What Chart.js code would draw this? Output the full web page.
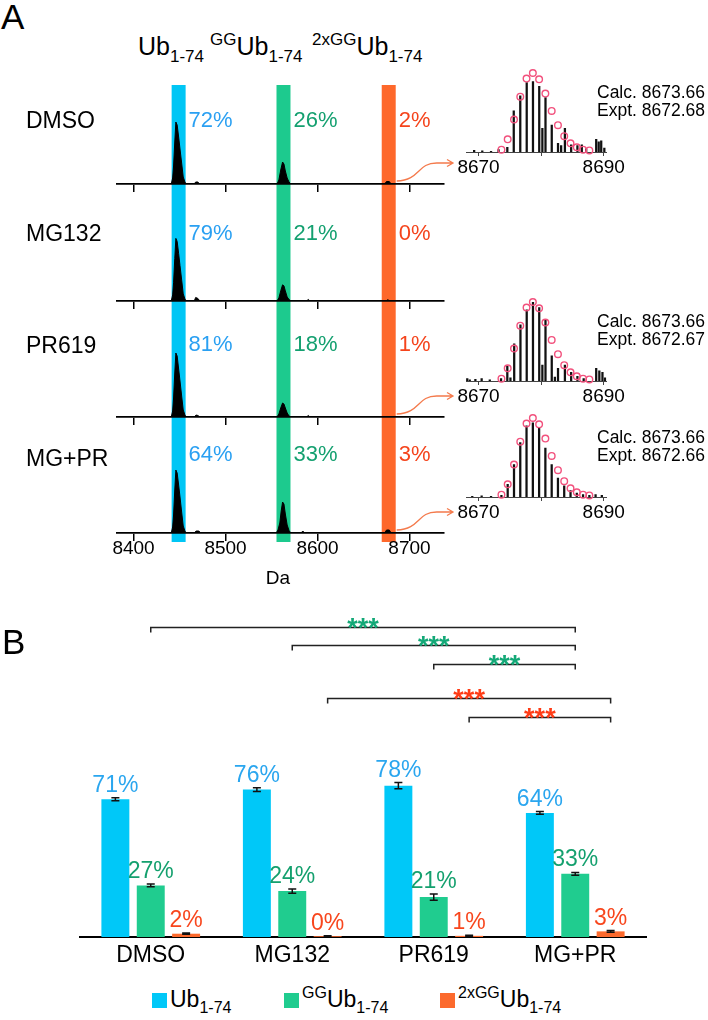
<!DOCTYPE html>
<html>
<head>
<meta charset="utf-8">
<title>Ub1-74 species</title>
<script src="https://cdn.jsdelivr.net/npm/chart.js@4.4.1/dist/chart.umd.min.js"></script>
<style>
  body { margin: 0; background: #fff; }
  #fig { position: relative; width: 708px; height: 1020px; overflow: hidden;
         font-family: "Liberation Sans", Arial, Helvetica, sans-serif; color: #000; }
  #fig canvas { position: absolute; }
  .t { position: absolute; white-space: nowrap; line-height: 1; z-index: 2; }
  .lo { position: relative; top: 7px; font-size: 17px; }
  .hi { position: relative; top: -10px; font-size: 17px; }
  .leg .lo { top: 6px; font-size: 16px; }
  .leg .hi { top: -9px; font-size: 16px; }
  .sq { position: absolute; width: 15px; height: 15px; z-index: 2; }
</style>
</head>
<body>
<div id="fig"></div>
<script>
"use strict";
const FONT = '"Liberation Sans", Arial, Helvetica, sans-serif';

// ---- shared ----
const conditions = ["DMSO", "MG132", "PR619", "MG+PR"];

// ---- panel A: deconvoluted spectra ----
const massMin = 8382, massMax = 8737.5;
const massTicks = [8400, 8500, 8600, 8700];
const bandMass = [8449, 8563, 8677.4];     // Ub1-74, GGUb1-74, 2xGGUb1-74
const bandWidthDa = 15.2;
const pctUb = [72, 79, 81, 64];
const pctGG = [26, 21, 18, 33];
const pct2xGG = [2, 0, 1, 3];
const arrowRows = [true, false, true, true];

const specDMSO = [
  [8382,0],[8441,0],[8442.5,6],[8443.5,18],[8444.8,42],[8446,62],[8447.4,59],[8449,47],[8450.5,35],[8452.4,20],[8454,7],[8456,1.5],[8458,0],
  [8466,0],[8467.5,2],[8470,2],[8471.5,0],
  [8556,0],[8558,4],[8560,14],[8562,22],[8563.5,20],[8565,13],[8567,6],[8569,2],[8571,0],
  [8673,0],[8675,2.5],[8678,2.5],[8680,0],
  [8737.5,0]];
const specMG132 = [
  [8382,0],[8441,0],[8442.5,6],[8443.5,18],[8444.8,42],[8446,62],[8447.4,59],[8449,47],[8450.5,35],[8452.4,20],[8454,7],[8456,1.5],[8458,0],
  [8466,0],[8467.5,3.5],[8470,2.5],[8472,0],
  [8556,0],[8558,3],[8560,10],[8562,16],[8563.5,15],[8565,10],[8567,4],[8569,1.5],[8571,0],
  [8588,0],[8590,1.5],[8592,0],
  [8675,0],[8676.5,1.5],[8678,0],
  [8737.5,0]];
const specPR619 = [
  [8382,0],[8441,0],[8442.5,6],[8443.5,19],[8444.8,44],[8446,64],[8447.4,61],[8449,48],[8450.5,36],[8452.4,20],[8454,7],[8456,1.5],[8458,0],
  [8466,0],[8468,2],[8470,1.5],[8472,0],
  [8556,0],[8558,3],[8560,9],[8562,14],[8563.5,13],[8565,9],[8567,4],[8569,1],[8571,0],
  [8588,0],[8590,1.5],[8592,0],
  [8737.5,0]];
const specMGPR = [
  [8382,0],[8441,0],[8442.5,6],[8443.5,18],[8444.8,43],[8446,63],[8447.4,60],[8449,48],[8450.5,36],[8452.4,20],[8454,7],[8456,1.5],[8458,0],
  [8466,0],[8468,2],[8471,2],[8473,0],
  [8555,0],[8557,3],[8559,10],[8560.5,22],[8562,31],[8563.5,29],[8565,19],[8567,8],[8569,2.5],[8571,0],
  [8582,0],[8584,2],[8586,0],
  [8673,0],[8675,3],[8678,3],[8680,0],
  [8737.5,0]];

// ---- panel A insets: 2xGGUb1-74 isotope envelope ----
const insetTicks = [8670, 8680, 8690];
const insetLabels = [8670, 8690];
const isoMz = [8673.66, 8674.66, 8675.67, 8676.67, 8677.67, 8678.68, 8679.68, 8680.68, 8681.69, 8682.69, 8683.69, 8684.70, 8685.70, 8686.70, 8687.71];
const isoCalc = [3, 16, 41, 70, 93, 100, 92, 74, 52, 34, 20, 11, 6, 3, 2];
const calcMass = ["8673.66", "8673.66", "8673.66"];
const exptMass = ["8672.68", "8672.67", "8672.66"];
const exptDMSO = [[8669.3,2],[8670.6,1.5],[8672,1],[8673.2,3],[8674.6,6],[8675.63,52],[8676.67,71],[8677.7,88],[8678.7,89],
  [8679.7,83],[8680.2,30],[8680.7,69],[8681.7,34],[8682.7,11],[8683.2,8],[8683.8,30],[8684.8,9],[8685.8,8],[8686.5,9],
  [8687.2,4],[8688.8,16],[8689.2,13],[8689.6,14],[8690.1,5]];
const exptPR619 = [[8668.2,3],[8668.6,1.5],[8669.5,2],[8670.5,3],[8671.8,1.5],[8673.6,3],[8674.6,19],[8675.1,4],[8675.7,47],
  [8676.7,71],[8677.7,90],[8678.7,100],[8679.7,93],[8680.2,20],[8680.7,77],[8681.7,32],[8682.2,5],[8682.7,16],[8683.8,20],
  [8684.8,11],[8685.8,6],[8686.8,3],[8688.8,16],[8689.3,13],[8689.8,11],[8690.2,4]];
const exptMGPR = [[8669,1],[8670.5,1.5],[8672,1],[8673.66,2],[8674.66,16],[8675.67,41],[8676.67,69],[8677.67,90],[8678.68,94],
  [8679.68,88],[8680.68,62],[8681.69,41],[8682.69,24],[8683.69,14],[8684.7,8],[8685.7,5],[8686.7,3],[8687.71,2],[8688.7,3],[8689.7,2]];

// ---- panel B: quantification ----
const ubMean = [71, 76, 78, 64];
const ubErr = [0.8, 1.0, 1.6, 0.7];
const ggMean = [26.6, 23.7, 20.6, 32.6];
const ggErr = [0.7, 1.1, 1.6, 0.7];
const gg2Mean = [1.7, 0.4, 0.6, 2.9];
const gg2Err = [0.3, 0.2, 0.3, 0.4];
const sigFrom = [0, 1, 2, 1, 2];
const sigTo = [3, 3, 3, 3, 3];
const sigSeries = [1, 1, 1, 2, 2];
const sigLevel = [160, 150.5, 140.7, 123.2, 113.4];
const sigMark = ["***", "***", "***", "***", "***"];

// colours
const bandColors = ["#00c6f5", "#1dca8e", "#fe682b"];
const pctColors = ["#2aa0f2", "#14a070", "#f5441c"];
const barColors = ["#00c8f8", "#20cc8f", "#fc6a2d"];
const barLabelColors = ["#2aa6ef", "#14a06e", "#f8461d"];
const starColors = ["#13a877", "#13a877", "#ff3c16"];
const arrowColor = "#f47a4c";
const isoColor = "#f2517d";

const fig = document.getElementById("fig");
function makeCanvas(left, top, w, h) {
  const c = document.createElement("canvas");
  c.width = w; c.height = h;
  c.style.left = left + "px"; c.style.top = top + "px";
  c.style.width = w + "px"; c.style.height = h + "px";
  fig.appendChild(c);
  return c;
}
function addText(left, top, size, html, extra) {
  const d = document.createElement("div");
  d.className = "t";
  d.style.left = left + "px"; d.style.top = top + "px"; d.style.fontSize = size + "px";
  if (extra) d.style.cssText += extra;
  d.innerHTML = html;
  fig.appendChild(d);
  return d;
}

// ---------- panel A rows ----------
const spectra = [specDMSO, specMG132, specPR619, specMGPR];
const rowPct = [pctUb, pctGG, pct2xGG];
const rowTop = [76, 192, 309, 425];
const rowHeight = [116, 117, 116, 145];
const labelLift = [63, 67, 72, 78];

const rowDecor = {
  id: "rowDecor",
  beforeDraw(chart, args, opts) {
    const { ctx, scales: { x } } = chart;
    ctx.save();
    bandMass.forEach((m, k) => {
      const x0 = x.getPixelForValue(m - bandWidthDa / 2);
      const x1 = x.getPixelForValue(m + bandWidthDa / 2);
      ctx.fillStyle = bandColors[k];
      ctx.fillRect(x0, opts.bandTop, x1 - x0, opts.bandBottom - opts.bandTop);
    });
    ctx.restore();
  },
  afterDraw(chart, args, opts) {
    const { ctx, chartArea, scales: { x } } = chart;
    const i = opts.row;
    const base = chartArea.bottom;
    ctx.save();
    ctx.font = "22px " + FONT;
    ctx.textBaseline = "middle";
    ctx.textAlign = "left";
    bandMass.forEach((m, k) => {
      ctx.fillStyle = pctColors[k];
      ctx.fillText(rowPct[k][i] + "%", x.getPixelForValue(m + bandWidthDa / 2) + 3, base - labelLift[i]);
    });
    if (arrowRows[i]) {
      const xs = x.getPixelForValue(bandMass[2] + bandWidthDa / 2) + 1;
      const ys = base - 3, ye = base - 21, xe = chartArea.right + 9;
      ctx.strokeStyle = arrowColor;
      ctx.lineWidth = 1.3;
      ctx.beginPath();
      ctx.moveTo(xs, ys);
      ctx.bezierCurveTo(xs + 24, ys - 1, xs + 20, ye, xs + 40, ye);
      ctx.lineTo(xe, ye);
      ctx.moveTo(xe - 6, ye - 3.5); ctx.lineTo(xe, ye); ctx.lineTo(xe - 6, ye + 3.5);
      ctx.stroke();
    }
    ctx.restore();
  }
};

conditions.forEach((name, i) => {
  const last = i === conditions.length - 1;
  const cv = makeCanvas(0, rowTop[i], 460, rowHeight[i]);
  new Chart(cv, {
    type: "line",
    data: {
      datasets: [{
        data: spectra[i].map(p => ({ x: p[0], y: p[1] })),
        borderColor: "#000", backgroundColor: "#000", borderWidth: 1,
        pointRadius: 0, fill: "origin", tension: 0
      }]
    },
    options: {
      responsive: false, animation: false, devicePixelRatio: 1,
      layout: { padding: { left: 117, right: 16, top: 8, bottom: last ? 7 : 0 } },
      plugins: {
        legend: { display: false }, tooltip: { enabled: false },
        rowDecor: { row: i, bandTop: i === 0 ? 9 : 0, bandBottom: last ? 117 : rowHeight[i] }
      },
      scales: {
        x: {
          type: "linear", min: massMin, max: massMax, bounds: "data",
          afterBuildTicks: s => { s.ticks = massTicks.map(v => ({ value: v })); },
          afterFit: s => { s.height = last ? 30 : 8; },
          ticks: { display: last, autoSkip: false, maxRotation: 0, padding: -4, color: "#000",
                   font: { family: FONT, size: 19 }, callback: v => String(v) },
          grid: { drawOnChartArea: false, drawTicks: true, tickLength: 8, color: "#000", lineWidth: 1.5 },
          border: { display: true, color: "#000", width: 1.8 }
        },
        y: { display: false, min: 0, max: 100 }
      }
    },
    plugins: [rowDecor]
  });
});

// ---------- panel A insets ----------
const insetSpectra = [exptDMSO, exptPR619, exptMGPR];
const insetBase = [152, 381, 497];
insetSpectra.forEach((spec, j) => {
  const cv = makeCanvas(450, insetBase[j] - 93, 175, 122);
  new Chart(cv, {
    type: "bar",
    data: {
      datasets: [
        { type: "line", data: isoMz.map((m, k) => ({ x: m, y: isoCalc[k] })), showLine: false,
          pointRadius: 3.3, pointBorderWidth: 1.4, pointBorderColor: isoColor,
          pointBackgroundColor: "rgba(255,255,255,0)", clip: false, order: 0 },
        { type: "bar", data: spec.map(p => ({ x: p[0], y: p[1] })), backgroundColor: "#111",
          barThickness: 1.6, order: 1 }
      ]
    },
    options: {
      responsive: false, animation: false, devicePixelRatio: 1,
      layout: { padding: { left: 16, right: 7, top: 14, bottom: 2 } },
      plugins: { legend: { display: false }, tooltip: { enabled: false } },
      scales: {
        x: {
          type: "linear", min: 8668, max: 8690.5, bounds: "data", offset: false,
          afterBuildTicks: s => { s.ticks = insetTicks.map(v => ({ value: v })); },
          afterFit: s => { s.height = 27; },
          ticks: { autoSkip: false, maxRotation: 0, padding: 0, color: "#000",
                   font: { family: FONT, size: 19 },
                   callback: v => insetLabels.includes(v) ? String(v) : "" },
          grid: { drawOnChartArea: false, tickLength: 4, color: "#444", lineWidth: 1, offset: false },
          border: { display: true, color: "#444", width: 1 }
        },
        y: { display: false, min: 0, max: 100 }
      }
    }
  });
});

// ---------- panel B ----------
const seriesMeans = [ubMean, ggMean, gg2Mean];
const seriesErrs = [ubErr, ggErr, gg2Err];
const barDecor = {
  id: "barDecor",
  afterDatasetsDraw(chart) {
    const { ctx, scales: { y } } = chart;
    ctx.save();
    seriesMeans.forEach((means, s) => {
      const meta = chart.getDatasetMeta(s);
      means.forEach((v, c) => {
        const bx = meta.data[c].x;
        const e = seriesErrs[s][c];
        const yTop = y.getPixelForValue(v + e);
        const yBot = y.getPixelForValue(Math.max(v - e, 0));
        ctx.strokeStyle = "#111";
        ctx.lineWidth = 1.5;
        ctx.beginPath();
        ctx.moveTo(bx, yTop); ctx.lineTo(bx, yBot);
        ctx.moveTo(bx - 4, yTop); ctx.lineTo(bx + 4, yTop);
        ctx.moveTo(bx - 4, yBot); ctx.lineTo(bx + 4, yBot);
        ctx.stroke();
        ctx.fillStyle = barLabelColors[s];
        ctx.font = "23px " + FONT;
        ctx.textAlign = "center";
        ctx.textBaseline = "alphabetic";
        ctx.fillText(Math.round(v) + "%", bx, yTop - 6);
      });
    });
    sigLevel.forEach((lv, k) => {
      const meta = chart.getDatasetMeta(sigSeries[k]);
      const a = meta.data[sigFrom[k]].x, b = meta.data[sigTo[k]].x;
      const yy = Math.round(y.getPixelForValue(lv)) + 0.5;
      ctx.strokeStyle = "#222";
      ctx.lineWidth = 1.5;
      ctx.beginPath();
      ctx.moveTo(a, yy + 5); ctx.lineTo(a, yy); ctx.lineTo(b, yy); ctx.lineTo(b, yy + 5);
      ctx.stroke();
      ctx.fillStyle = starColors[sigSeries[k]];
      ctx.font = "bold 27px " + FONT;
      ctx.textAlign = "center";
      ctx.textBaseline = "alphabetic";
      ctx.fillText(sigMark[k], (a + b) / 2, yy + 9);
    });
    ctx.restore();
  }
};

const cvB = makeCanvas(0, 600, 708, 380);
new Chart(cvB, {
  type: "bar",
  data: {
    labels: conditions,
    datasets: [
      { label: "Ub1-74", data: ubMean, backgroundColor: barColors[0] },
      { label: "GGUb1-74", data: ggMean, backgroundColor: barColors[1] },
      { label: "2xGGUb1-74", data: gg2Mean, backgroundColor: barColors[2] }
    ]
  },
  options: {
    responsive: false, animation: false, devicePixelRatio: 1,
    datasets: { bar: { categoryPercentage: 0.75, barPercentage: 0.79 } },
    layout: { padding: { left: 80, right: 62, top: 17, bottom: 11 } },
    plugins: { legend: { display: false }, tooltip: { enabled: false } },
    scales: {
      x: {
        grid: { display: false, drawTicks: false },
        border: { display: true, color: "#000", width: 2 },
        ticks: { color: "#000", font: { family: FONT, size: 23 }, padding: 5 },
        afterFit: s => { s.height = 32; }
      },
      y: { display: false, min: 0, max: 165 }
    }
  },
  plugins: [barDecor]
});

// ---------- text ----------
addText(1, -1, 35, "A");
addText(2, 624, 35, "B");
addText(138, 34, 25, 'Ub<span class="lo">1-74</span>');
addText(210, 34, 25, '<span class="hi">GG</span>Ub<span class="lo">1-74</span>');
addText(312, 34, 25, '<span class="hi">2xGG</span>Ub<span class="lo">1-74</span>');
const rowNameTop = [109, 222, 334, 447];
conditions.forEach((name, i) => addText(26, rowNameTop[i], 23, name));
addText(228, 568, 19, "Da", "width:100px;text-align:center;");
insetBase.forEach((b, j) => {
  addText(597, b - 69, 17.5, "Calc. " + calcMass[j] + "<br>Expt. " + exptMass[j], "line-height:18px;");
});
// legend
const legLeft = [152, 284, 440];
const legText = ['Ub<span class="lo">1-74</span>',
                 '<span class="hi">GG</span>Ub<span class="lo">1-74</span>',
                 '<span class="hi">2xGG</span>Ub<span class="lo">1-74</span>'];
legLeft.forEach((lx, k) => {
  const sq = document.createElement("div");
  sq.className = "sq";
  sq.style.left = lx + "px"; sq.style.top = "993px"; sq.style.background = barColors[k];
  fig.appendChild(sq);
  const d = addText(lx + 18, 988, 23, legText[k]);
  d.classList.add("leg");
});
</script>
</body>
</html>
